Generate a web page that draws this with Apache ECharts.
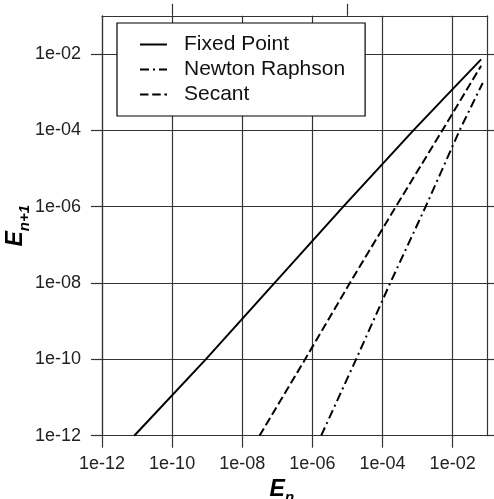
<!DOCTYPE html>
<html>
<head>
<meta charset="utf-8">
<script src="https://cdn.jsdelivr.net/npm/echarts@6/dist/echarts.min.js"></script>
<style>
  html, body { margin: 0; padding: 0; background: #fff; }
  #chart { width: 494px; height: 499px; }
</style>
</head>
<body>
<div id="chart"></div>
<script>
// 误差数据 (E_n, E_n+1)
const fixedX = [8.3e-12, 9.1e-10, 7.6e-6, 7.6e-4, 1e-2, 0.065];
const fixedY = [1e-12, 1e-10, 1e-6, 1e-4, 1.2e-3, 7.2e-3];
const newtonX = [1.78e-6, 1.76e-5, 1.66e-4, 1.7e-3, 1.58e-2, 0.072];
const newtonY = [1e-12, 1e-10, 1e-8, 1e-6, 1e-4, 1.74e-3];
const secantX = [3.1e-8, 6.2e-7, 1.17e-5, 2.4e-4, 5.1e-3, 0.065];
const secantY = [1e-12, 1e-10, 1e-8, 1e-6, 1e-4, 4.9e-3];

const tickValues = [1e-12, 1e-10, 1e-8, 1e-6, 1e-4, 1e-2];
const topTicks = [1e-10, 1e-5];
const seriesNames = ['Fixed Point', 'Newton Raphson', 'Secant'];

const font = 'Liberation Sans, Arial, sans-serif';
const gridColor = '#333';

// 格式化为 1e-02 这种形式
function formatExp(v) {
    const e = Math.round(Math.log10(v));
    return '1e' + (e < 0 ? '-' : '+') + String(Math.abs(e)).padStart(2, '0');
}

function pairs(xs, ys) {
    return xs.map((x, i) => [x, ys[i]]);
}

const nameRich = {
    e: { fontSize: 23, fontWeight: 'bold', fontStyle: 'italic', fontFamily: font, color: '#000',
         verticalAlign: 'bottom', lineHeight: 26, padding: [0, 0, 5, 0] },
    s: { fontSize: 15, fontWeight: 'bold', fontStyle: 'italic', fontFamily: font, color: '#000',
         verticalAlign: 'bottom', lineHeight: 18 }
};

const chart = echarts.init(document.getElementById('chart'));
chart.setOption({
    animation: false,
    grid: { left: 102, right: 6.3, top: 15.8, bottom: 63.3, outerBoundsMode: 'none' },
    legend: {
        data: seriesNames,
        orient: 'vertical',
        left: 117,
        top: 23,
        backgroundColor: '#fff',
        borderColor: '#000',
        borderWidth: 1.2,
        borderRadius: 0,
        padding: [9, 20, 9, 22],
        itemWidth: 27,
        itemHeight: 14,
        itemGap: 0,
        itemStyle: { opacity: 0 },
        textStyle: { fontSize: 21, fontFamily: font, color: '#111', lineHeight: 25, padding: [0, 0, 0, 12] }
    },
    xAxis: [
        {
            type: 'log', logBase: 10, min: 1e-12, max: 1e-1,
            name: '{e|E}{s|n}',
            nameLocation: 'middle',
            nameGap: 44,
            nameMoveOverlap: false,
            nameTextStyle: { rich: nameRich, padding: [0, 26, 0, 0], verticalAlign: 'top' },
            axisLine: { show: true, lineStyle: { color: gridColor, width: 1.2 } },
            axisTick: { show: true, customValues: tickValues, length: 12, lineStyle: { color: gridColor, width: 1.2 } },
            axisLabel: { customValues: tickValues, formatter: formatExp, fontSize: 18, fontFamily: font, color: '#222', margin: 19 },
            splitLine: { show: true, lineStyle: { color: gridColor, width: 1.2 } }
        },
        {
            type: 'log', logBase: 10, min: 1e-12, max: 1e-1, position: 'top',
            axisLine: { show: true, lineStyle: { color: gridColor, width: 1.2 } },
            axisTick: { show: true, customValues: topTicks, length: 12, lineStyle: { color: gridColor, width: 1.2 } },
            axisLabel: { show: false },
            splitLine: { show: false }
        }
    ],
    yAxis: [
        {
            type: 'log', logBase: 10, min: 1e-12, max: 1e-1,
            name: '{e|E}{s|n+1}',
            nameLocation: 'middle',
            nameGap: 70,
            nameMoveOverlap: false,
            nameRotate: 90,
            nameTextStyle: { rich: nameRich },
            axisLine: { show: true, lineStyle: { color: gridColor, width: 1.2 } },
            axisTick: { show: true, customValues: tickValues, length: 11, lineStyle: { color: gridColor, width: 1.2 } },
            axisLabel: { customValues: tickValues, formatter: formatExp, fontSize: 18, fontFamily: font, color: '#222', margin: 21 },
            splitLine: { show: true, lineStyle: { color: gridColor, width: 1.2 } }
        },
        {
            type: 'log', logBase: 10, min: 1e-12, max: 1e-1, position: 'right',
            axisLine: { show: true, lineStyle: { color: gridColor, width: 1.2 } },
            axisTick: { show: true, customValues: tickValues, length: 7, lineStyle: { color: gridColor, width: 1.2 } },
            axisLabel: { show: false },
            splitLine: { show: false }
        }
    ],
    series: [
        {
            name: seriesNames[0], type: 'line', symbol: 'none', silent: true,
            xAxisIndex: 0, yAxisIndex: 0,
            lineStyle: { color: '#000', width: 2, type: 'solid' },
            itemStyle: { color: '#000' },
            data: pairs(fixedX, fixedY)
        },
        {
            name: seriesNames[1], type: 'line', symbol: 'none', silent: true,
            xAxisIndex: 0, yAxisIndex: 0,
            lineStyle: { color: '#000', width: 2, type: [9, 4, 2, 4] },
            itemStyle: { color: '#000' },
            data: pairs(newtonX, newtonY)
        },
        {
            name: seriesNames[2], type: 'line', symbol: 'none', silent: true,
            xAxisIndex: 0, yAxisIndex: 0,
            lineStyle: { color: '#000', width: 2, type: [8.5, 3.7] },
            itemStyle: { color: '#000' },
            data: pairs(secantX, secantY)
        }
    ]
});
</script>
</body>
</html>
